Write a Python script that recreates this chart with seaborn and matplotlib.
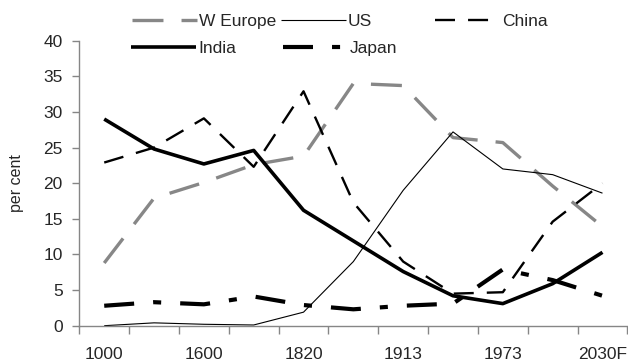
import matplotlib
matplotlib.use("Agg")
import matplotlib.pyplot as plt
import seaborn as sns
import pandas as pd

# Share of world GDP by region, per cent
periods = ["1000", "1500", "1600", "1700", "1820", "1870", "1913", "1950", "1973", "2003", "2030F"]
w_europe = [8.8, 17.9, 20.1, 22.6, 23.8, 34.0, 33.7, 26.4, 25.7, 19.6, 13.9]
us = [0.0, 0.4, 0.2, 0.1, 1.9, 9.0, 19.0, 27.2, 22.0, 21.2, 18.6]
china = [22.9, 25.0, 29.1, 22.3, 32.9, 17.3, 9.0, 4.5, 4.7, 14.6, 20.0]
india = [29.0, 24.8, 22.7, 24.6, 16.2, 11.9, 7.6, 4.2, 3.1, 5.9, 10.3]
japan = [2.8, 3.3, 3.0, 4.1, 2.9, 2.3, 2.8, 3.1, 7.9, 6.4, 4.2]

series = [
    ("W Europe", w_europe),
    ("US", us),
    ("China", china),
    ("India", india),
    ("Japan", japan),
]

styles = {
    "W Europe": dict(color="#878787", lw=2.4, ls=(0, (22.3, 13.0))),
    "US": dict(color="black", lw=0.8, ls="-"),
    "China": dict(color="black", lw=1.7, ls=(0, (14.4, 9.4))),
    "India": dict(color="black", lw=2.6, ls="-"),
    "Japan": dict(color="black", lw=3.0, ls=(0, (21.6, 13.7, 5.8, 13.7))),
}

sns.set_style("white")
plt.rcParams["font.family"] = ["Liberation Sans", "DejaVu Sans"]
plt.rcParams["lines.scale_dashes"] = False
plt.rcParams["lines.dash_capstyle"] = "butt"
plt.rcParams["lines.solid_capstyle"] = "butt"

FS = 12.5
W, H = 628, 361
fig = plt.figure(figsize=(W / 100, H / 100), dpi=100)
ax = fig.add_axes([79.3 / W, 1 - 325.7 / H, (627.4 - 79.3) / W, (325.7 - 40.7) / H])

df = pd.DataFrame({"idx": range(len(periods))})
for name, vals in series:
    st = styles[name]
    sns.lineplot(x=df["idx"], y=vals, ax=ax, color=st["color"], linewidth=st["lw"],
                 linestyle=st["ls"], label=name, errorbar=None)

axis_grey = "#868686"
ax.set_xlim(-0.5, len(periods) - 0.5)
ax.set_ylim(0, 40)
ax.set_yticks(range(0, 41, 5))
ax.tick_params(axis="y", direction="out", length=5, width=1, color=axis_grey,
               labelsize=FS, pad=7, left=True)

# tick marks between categories, labels on every other category
ax.set_xticks([i - 0.5 for i in range(len(periods) + 1)])
ax.set_xticklabels([])
ax.set_xticks(range(0, len(periods), 2), minor=True)
ax.set_xticklabels(periods[::2], minor=True)
ax.tick_params(axis="x", which="major", direction="out", length=6, width=1,
               color=axis_grey, bottom=True)
ax.tick_params(axis="x", which="minor", length=0, labelsize=FS, pad=15)

for side in ("top", "right"):
    ax.spines[side].set_visible(False)
for side in ("left", "bottom"):
    ax.spines[side].set_color(axis_grey)
    ax.spines[side].set_linewidth(1)
ax.set_xlabel("")
ax.set_ylabel("per cent", fontsize=FS - 1, labelpad=14)

handles, labels = ax.get_legend_handles_labels()
ax.get_legend().remove()
hmap = dict(zip(labels, handles))
legend_pos = {
    "W Europe": (132, 21),
    "US": (281, 21),
    "China": (435, 21),
    "India": (131, 48),
    "Japan": (283, 48),
}
for name, (px, py) in legend_pos.items():
    leg = fig.legend([hmap[name]], [name], loc="center left",
                     bbox_to_anchor=(px / W, 1 - py / H), frameon=False,
                     fontsize=FS, handlelength=65 / (FS * 100 / 72),
                     handletextpad=0.12, borderpad=0, borderaxespad=0)

fig.savefig("out.png", dpi=100)
